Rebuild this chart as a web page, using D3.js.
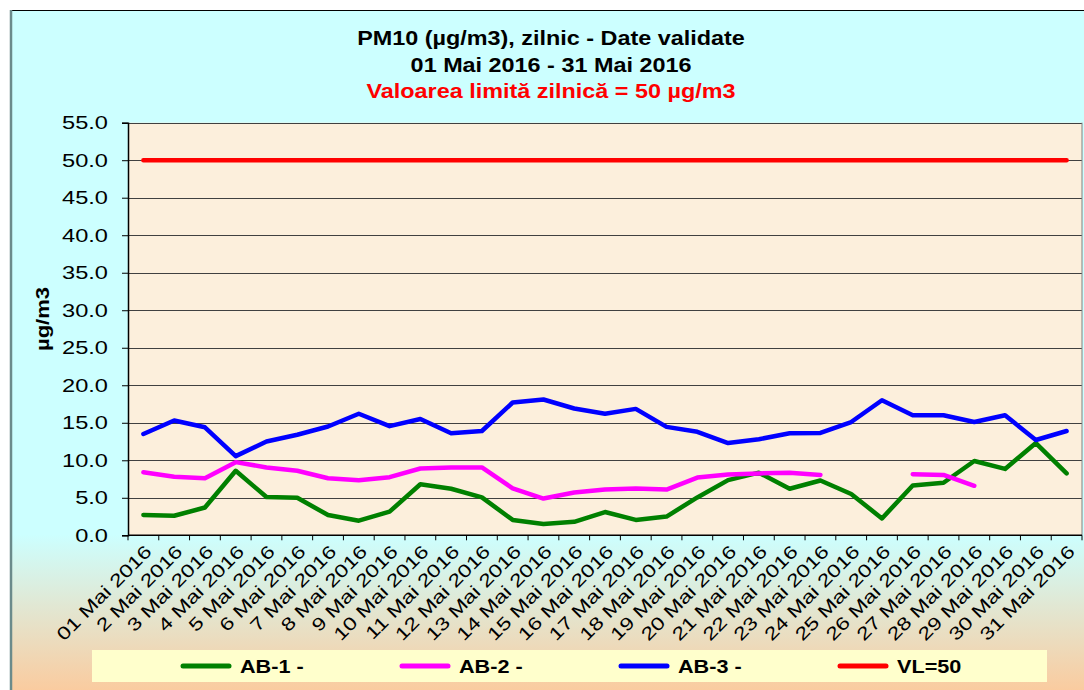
<!DOCTYPE html>
<html>
<head>
<meta charset="utf-8">
<script src="https://cdn.jsdelivr.net/npm/d3@7"></script>
<style>
  body { margin: 0; background: #fff; }
  svg text { font-family: "Liberation Sans", Arial, sans-serif; }
</style>
</head>
<body>
<svg id="chart" width="1084" height="690"></svg>
<script>
// chart data
let days = ["01 Mai 2016", "2 Mai 2016", "3 Mai 2016", "4 Mai 2016", "5 Mai 2016", "6 Mai 2016",
    "7 Mai 2016", "8 Mai 2016", "9 Mai 2016", "10 Mai 2016", "11 Mai 2016", "12 Mai 2016",
    "13 Mai 2016", "14 Mai 2016", "15 Mai 2016", "16 Mai 2016", "17 Mai 2016", "18 Mai 2016",
    "19 Mai 2016", "20 Mai 2016", "21 Mai 2016", "22 Mai 2016", "23 Mai 2016", "24 Mai 2016",
    "25 Mai 2016", "26 Mai 2016", "27 Mai 2016", "28 Mai 2016", "29 Mai 2016", "30 Mai 2016",
    "31 Mai 2016"];
let ab1 = [2.7, 2.6, 3.7, 8.6, 5.1, 5.0, 2.7, 1.95, 3.15, 6.8, 6.2, 5.05, 2.05, 1.5, 1.8, 3.1,
    2.05, 2.5, 5.05, 7.35, 8.35, 6.2, 7.3, 5.5, 2.25, 6.65, 7.0, 9.9, 8.85, 12.3, 8.25];
let ab2 = [8.4, 7.8, 7.6, 9.75, 9.05, 8.6, 7.6, 7.35, 7.75, 8.9, 9.05, 9.05, 6.25, 4.9, 5.7, 6.1,
    6.25, 6.1, 7.7, 8.1, 8.25, 8.35, 8.05, null, null, 8.15, 8.05, 6.6, null, null, null];
let ab3 = [13.5, 15.3, 14.4, 10.55, 12.5, 13.4, 14.5, 16.2, 14.55, 15.5, 13.6, 13.9, 17.7, 18.1,
    16.9, 16.2, 16.85, 14.45, 13.8, 12.3, 12.8, 13.6, 13.65, 15.1, 18.0, 16.0, 16.0, 15.1, 16.0,
    12.7, 13.9];
let vl = days.map(() => 50);
let yTicks = [0, 5, 10, 15, 20, 25, 30, 35, 40, 45, 50, 55];
let seriesNames = ["AB-1 -", "AB-2 -", "AB-3 -", "VL=50"];
let titleLines = ["PM10 (µg/m3), zilnic - Date validate", "01 Mai 2016 - 31 Mai 2016",
    "Valoarea limită zilnică = 50 µg/m3"];

const COLORS = ["#008000", "#ff00ff", "#0000ff", "#ff0000"];
const SX = 1.27; // text in the picture is wide, stretch it along its direction

let svg = d3.select("#chart");
let width = 1084, height = 690;
let plot = {left: 128, right: 1082, top: 122.7, bottom: 535.3};

// background with gradient
let defs = svg.append("defs");
let grad = defs.append("linearGradient").attr("id", "bg")
    .attr("x1", 0).attr("y1", 0).attr("x2", 0).attr("y2", 1);
grad.append("stop").attr("offset", "0.76").attr("stop-color", "#ccffff");
grad.append("stop").attr("offset", "1").attr("stop-color", "#fdc899");

svg.append("rect")
    .attr("x", 10).attr("y", 10)
    .attr("width", width).attr("height", height)
    .attr("fill", "url(#bg)");
svg.append("line").attr("x1", 10).attr("x2", width).attr("y1", 10.5).attr("y2", 10.5)
    .attr("stroke", "#000").attr("stroke-width", 1);
svg.append("line").attr("x1", 11).attr("x2", 11).attr("y1", 10).attr("y2", height)
    .attr("stroke", "#6b8b8b").attr("stroke-width", 2.5);

// titles
titleLines.forEach((t, i) => {
    svg.append("text")
        .attr("transform", `translate(551,${45 + i * 26.5}) scale(1.17,1)`)
        .attr("text-anchor", "middle")
        .attr("font-size", 20)
        .attr("font-weight", "bold")
        .attr("fill", i == 2 ? "#ff0000" : "#000")
        .text(t);
});

// scales
let x = d3.scaleBand().domain(days).range([plot.left, plot.right]);
let y = d3.scaleLinear().domain([0, 55]).range([plot.bottom, plot.top]);

svg.append("rect")
    .attr("x", plot.left).attr("y", plot.top)
    .attr("width", plot.right - plot.left).attr("height", plot.bottom - plot.top)
    .attr("fill", "#fcefdc");

// grid lines
svg.append("g")
    .selectAll("line")
    .data(yTicks.filter(d => d > 0))
    .join("line")
    .attr("x1", plot.left).attr("x2", plot.right)
    .attr("y1", d => Math.round(y(d)) + 0.5).attr("y2", d => Math.round(y(d)) + 0.5)
    .attr("stroke", "#404040").attr("stroke-width", 1);

svg.append("line")
    .attr("x1", plot.right).attr("x2", plot.right)
    .attr("y1", plot.top).attr("y2", plot.bottom)
    .attr("stroke", "#808080");

// y axis
let yAxis = svg.append("g")
    .attr("transform", `translate(${plot.left},0)`)
    .call(d3.axisLeft(y).tickValues(yTicks).tickFormat(d3.format(".1f")).tickSizeOuter(0).tickSize(6));
yAxis.select(".domain").attr("stroke", "#000").attr("stroke-width", 1.5);
yAxis.selectAll(".tick line").attr("stroke", "#000");
yAxis.selectAll(".tick text")
    .attr("font-size", 18.6)
    .attr("font-family", "Liberation Sans, Arial, sans-serif")
    .attr("fill", "#000")
    .attr("x", 0)
    .attr("transform", `translate(-20,0) scale(${SX},1)`);

svg.append("text")
    .attr("transform", "translate(49,319) rotate(-90) scale(1.16,1)")
    .attr("text-anchor", "middle")
    .attr("font-size", 19)
    .attr("font-weight", "bold")
    .text("µg/m3");

// x axis: ticks at the category boundaries
let xAxis = svg.append("g");
xAxis.append("line")
    .attr("x1", plot.left).attr("x2", plot.right)
    .attr("y1", plot.bottom).attr("y2", plot.bottom)
    .attr("stroke", "#000").attr("stroke-width", 1.5);
xAxis.selectAll("line.tk")
    .data(days.concat([null]))
    .join("line")
    .attr("class", "tk")
    .attr("x1", (d, i) => plot.left + i * x.step())
    .attr("x2", (d, i) => plot.left + i * x.step())
    .attr("y1", plot.bottom).attr("y2", plot.bottom + 5)
    .attr("stroke", "#000");
xAxis.selectAll("text")
    .data(days)
    .join("text")
    .attr("transform", d => `translate(${x(d) + x.bandwidth() / 2 + 5},${plot.bottom + 13}) rotate(-45) scale(${SX},1)`)
    .attr("text-anchor", "end")
    .attr("font-size", 18)
    .attr("dy", "0.35em")
    .text(d => d);

// series lines
let allSeries = [ab1, ab2, ab3, vl];
let line = d3.line()
    .defined(d => d != null)
    .x((d, i) => x(days[i]) + x.bandwidth() / 2)
    .y(d => y(d));

svg.append("g")
    .selectAll("path")
    .data(allSeries)
    .join("path")
    .attr("d", d => line(d))
    .attr("fill", "none")
    .attr("stroke", (d, i) => COLORS[i])
    .attr("stroke-width", 4.5)
    .attr("stroke-linejoin", "round")
    .attr("stroke-linecap", "round");

// legend
let legend = svg.append("g");
legend.append("rect")
    .attr("x", 92).attr("y", 650)
    .attr("width", 955).attr("height", 32)
    .attr("fill", "#ffffcc");
let items = legend.selectAll("g.item")
    .data(seriesNames)
    .join("g")
    .attr("class", "item")
    .attr("transform", (d, i) => `translate(${183 + i * 219},666)`);
items.append("line")
    .attr("x1", 0).attr("x2", 46)
    .attr("stroke", (d, i) => COLORS[i])
    .attr("stroke-width", 5)
    .attr("stroke-linecap", "round");
items.append("text")
    .attr("transform", `translate(57,7) scale(1.17,1)`)
    .attr("font-size", 18.5)
    .attr("font-weight", "bold")
    .text(d => d);
</script>
</body>
</html>
